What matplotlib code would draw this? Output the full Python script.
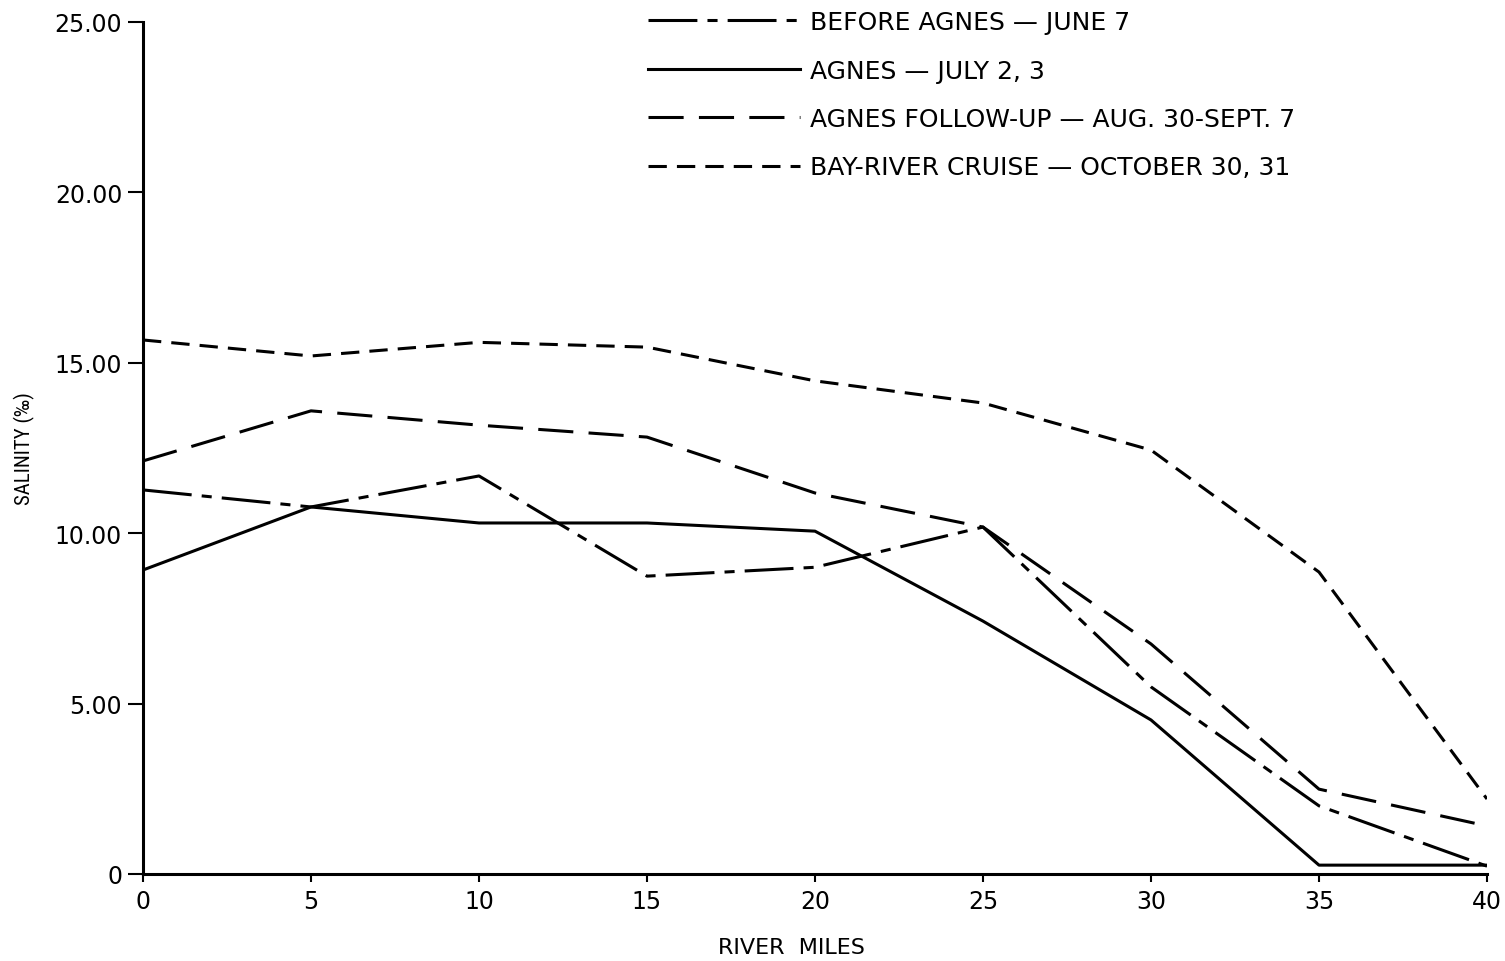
import matplotlib
matplotlib.use("Agg")
import matplotlib.pyplot as plt
from matplotlib import font_manager

miles = [0, 5, 10, 15, 20, 25, 30, 35, 40]
before_agnes = [11.27, 10.77, 11.68, 8.74, 9.00, 10.18, 5.49, 2.00, 0.23]
agnes = [8.92, 10.77, 10.30, 10.30, 10.06, 7.42, 4.52, 0.26, 0.26]
follow_up = [12.12, 13.59, 13.17, 12.82, 11.18, 10.18, 6.75, 2.49, 1.41]
bay_river = [15.67, 15.20, 15.60, 15.46, 14.47, 13.82, 12.44, 8.86, 2.20]

labels = ["BEFORE AGNES — JUNE 7",
          "AGNES — JULY 2, 3",
          "AGNES FOLLOW-UP — AUG. 30-SEPT. 7",
          "BAY-RIVER CRUISE — OCTOBER 30, 31"]
yticks = [0, 5, 10, 15, 20, 25]
ytick_labels = ["0", "5.00", "10.00", "15.00", "20.00", "25.00"]
xticks = [0, 5, 10, 15, 20, 25, 30, 35, 40]

names = {f.name for f in font_manager.fontManager.ttflist}
cond = "DejaVu Sans"
for cand in ["Roboto Condensed", "Liberation Sans Narrow", "DejaVu Sans Condensed",
             "Open Sans Condensed", "Noto Sans Condensed"]:
    if cand in names:
        cond = cand
        break

W, H = 1505, 962
fig = plt.figure(figsize=(W / 100, H / 100), dpi=100)
ax = fig.add_axes([143 / W, 1 - 875 / H, (1487 - 143) / W, (875 - 23) / H])

lw = 2.2
l1, = ax.plot(miles, before_agnes, color="black", lw=lw, dashes=(16, 3.3, 3.3, 3.3))
l2, = ax.plot(miles, agnes, color="black", lw=lw, linestyle="-")
l3, = ax.plot(miles, follow_up, color="black", lw=lw, dashes=(11.5, 5))
l4, = ax.plot(miles, bay_river, color="black", lw=lw, dashes=(6, 3.3))

ax.set_xlim(0, 40)
ax.set_ylim(0, 25)
ax.spines["top"].set_visible(False)
ax.spines["right"].set_visible(False)
ax.spines["left"].set_linewidth(2.2)
ax.spines["bottom"].set_linewidth(2.2)
ax.set_yticks(yticks)
ax.set_yticklabels(ytick_labels, fontsize=17, family="DejaVu Sans")
ax.set_xticks(xticks)
ax.set_xticklabels([str(v) for v in xticks], fontsize=17, family="DejaVu Sans")
ax.tick_params(axis="y", direction="out", length=11, width=1.5, pad=4)
ax.tick_params(axis="x", direction="out", length=6, width=1.5, pad=5)

ax.set_ylabel("SALINITY (‰)", fontsize=15, family=cond)
ax.yaxis.set_label_coords(-108 / (1487 - 143), 0.5)
ax.set_xlabel("RIVER  MILES", fontsize=16, family="DejaVu Sans")
ax.xaxis.set_label_coords((791 - 143) / (1487 - 143), -63 / (875 - 23))

fs = 18
leg = fig.legend([l1, l2, l3, l4], labels, loc="upper left",
                 bbox_to_anchor=(648 / W, 1 - 11 / H), frameon=False,
                 borderpad=0, borderaxespad=0,
                 handlelength=152 / (fs * 100 / 72), handletextpad=10 / (fs * 100 / 72),
                 labelspacing=0.98,
                 prop={"family": "DejaVu Sans", "size": fs})

fig.savefig("out.png", dpi=100)
